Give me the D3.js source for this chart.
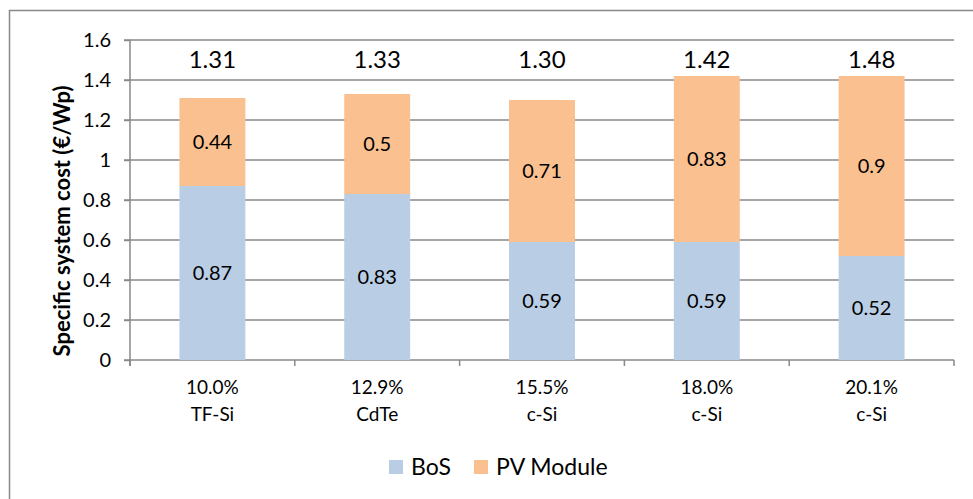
<!DOCTYPE html>
<html>
<head>
<meta charset="utf-8">
<script src="https://cdn.jsdelivr.net/npm/d3@7"></script>
<style>
  html, body { margin: 0; padding: 0; background: #fff; overflow: hidden; }
  svg { display: block; }
  svg text { font-family: Lato, "Open Sans", sans-serif; fill: #000; }
</style>
</head>
<body>
<div id="chart"></div>
<script>
// data
const efficiencies = ['10.0%', '12.9%', '15.5%', '18.0%', '20.1%']
const technologies = ['TF-Si', 'CdTe', 'c-Si', 'c-Si', 'c-Si']
const bos = [0.87, 0.83, 0.59, 0.59, 0.52]
const pvModule = [0.44, 0.5, 0.71, 0.83, 0.9]
const totalLabels = ['1.31', '1.33', '1.30', '1.42', '1.48']
const seriesNames = ['BoS', 'PV Module']
const yTicks = [0, 0.2, 0.4, 0.6, 0.8, 1, 1.2, 1.4, 1.6]

const colors = ['#B9CDE5', '#FAC090']
const gridColor = '#888'

const width = 973
const height = 499
const margin = { top: 40, left: 130, right: 19, bottom: 139 }
const innerWidth = width - margin.left - margin.right
const innerHeight = height - margin.top - margin.bottom

const rows = efficiencies.map((e, i) => ({
  key: i,
  eff: e,
  tech: technologies[i],
  BoS: bos[i],
  'PV Module': pvModule[i],
  total: totalLabels[i]
}))

const svg = d3.select('#chart')
  .append('svg')
  .attr('width', width)
  .attr('height', height)

// outer chart border (runs off the right and bottom edge, like the reference)
svg.append('path')
  .attr('d', `M9.5,${height} V10.5 H${width}`)
  .attr('fill', 'none')
  .attr('stroke', gridColor)
  .attr('stroke-width', 1.5)

const main = svg.append('g')
  .attr('transform', `translate(${margin.left}, ${margin.top})`)

const xScale = d3.scaleBand()
  .domain(rows.map(d => d.key))
  .range([0, innerWidth])
  .paddingInner(0.6)
  .paddingOuter(0.3)

const yScale = d3.scaleLinear()
  .domain([0, 1.6])
  .range([innerHeight, 0])

const xMid = k => xScale(k) + xScale.bandwidth() / 2

// gridlines
main.append('g')
  .selectAll('line')
  .data(yTicks.filter(d => d > 0))
  .enter()
  .append('line')
  .attr('x1', -6)
  .attr('x2', innerWidth)
  .attr('y1', d => yScale(d))
  .attr('y2', d => yScale(d))
  .attr('stroke', gridColor)
  .attr('stroke-width', 1.5)

// y axis
const yAxis = d3.axisLeft(yScale)
  .tickValues(yTicks)
  .tickSize(6)
  .tickPadding(13)
  .tickFormat(d => String(+d.toFixed(1)))

const yG = main.append('g').call(yAxis)
yG.select('.domain').remove()
yG.selectAll('line').attr('stroke', gridColor).attr('stroke-width', 1.5)
yG.selectAll('text').attr('font-size', 20).attr('font-family', 'Lato').attr('fill', '#000')

main.append('line')
  .attr('x1', 0).attr('x2', 0)
  .attr('y1', 0).attr('y2', innerHeight + 6)
  .attr('stroke', gridColor)
  .attr('stroke-width', 1.5)

// x axis line and boundary ticks
main.append('line')
  .attr('x1', -6).attr('x2', innerWidth)
  .attr('y1', innerHeight).attr('y2', innerHeight)
  .attr('stroke', gridColor)
  .attr('stroke-width', 1.5)

const step = xScale.step()
const boundaries = d3.range(rows.length + 1).map(i => xScale(i) !== undefined ? xScale(i) - step * 0.3 : innerWidth)

main.append('g')
  .selectAll('line')
  .data(boundaries)
  .enter()
  .append('line')
  .attr('x1', d => d).attr('x2', d => d)
  .attr('y1', innerHeight).attr('y2', innerHeight + 6)
  .attr('stroke', gridColor)
  .attr('stroke-width', 1.5)

// stacked bars
const stack = d3.stack().keys(seriesNames)
const stacked = stack(rows)

const layers = main.append('g')
  .selectAll('g')
  .data(stacked)
  .enter()
  .append('g')
  .attr('fill', (d, i) => colors[i])

layers.selectAll('rect')
  .data(d => d)
  .enter()
  .append('rect')
  .attr('x', d => xScale(d.data.key))
  .attr('width', xScale.bandwidth())
  .attr('y', d => yScale(d[1]))
  .attr('height', d => yScale(d[0]) - yScale(d[1]))

// value labels inside the segments
main.append('g')
  .selectAll('text')
  .data(stacked.flatMap(layer => layer.map(s => ({ s, key: layer.key }))))
  .enter()
  .append('text')
  .attr('x', d => xMid(d.s.data.key))
  .attr('y', d => yScale((d.s[0] + d.s[1]) / 2) + 7)
  .attr('text-anchor', 'middle')
  .attr('font-size', 20)
  .text(d => d.s.data[d.key])

// total labels above bars
main.append('g')
  .selectAll('text')
  .data(rows)
  .enter()
  .append('text')
  .attr('x', d => xMid(d.key))
  .attr('y', yScale(1.5) + 8)
  .attr('text-anchor', 'middle')
  .attr('font-size', 24)
  .text(d => d.total)

// category labels
const cat = main.append('g')
  .selectAll('text')
  .data(rows)
  .enter()
  .append('text')
  .attr('text-anchor', 'middle')
  .attr('font-size', 19)
  .attr('transform', d => `translate(${xMid(d.key)}, ${innerHeight + 34})`)

cat.append('tspan').attr('x', 0).attr('y', 0).text(d => d.eff)
cat.append('tspan').attr('x', 0).attr('y', 27).text(d => d.tech)

// y axis title
svg.append('text')
  .attr('transform', `translate(70, ${margin.top + innerHeight / 2 + 21}) rotate(-90)`)
  .attr('text-anchor', 'middle')
  .attr('font-size', 22)
  .attr('font-weight', 'bold')
  .text('Specific system cost (€/Wp)')

// legend
const legend = svg.append('g')
  .attr('transform', `translate(389, 467)`)

const legendItems = legend.selectAll('g')
  .data(seriesNames)
  .enter()
  .append('g')
  .attr('transform', (d, i) => `translate(${i * 85}, 0)`)

legendItems.append('rect')
  .attr('x', 0)
  .attr('y', -7)
  .attr('width', 14)
  .attr('height', 14)
  .attr('fill', (d, i) => colors[i])

legendItems.append('text')
  .attr('x', 22)
  .attr('y', 8)
  .attr('font-size', 23)
  .text(d => d)
</script>
</body>
</html>
